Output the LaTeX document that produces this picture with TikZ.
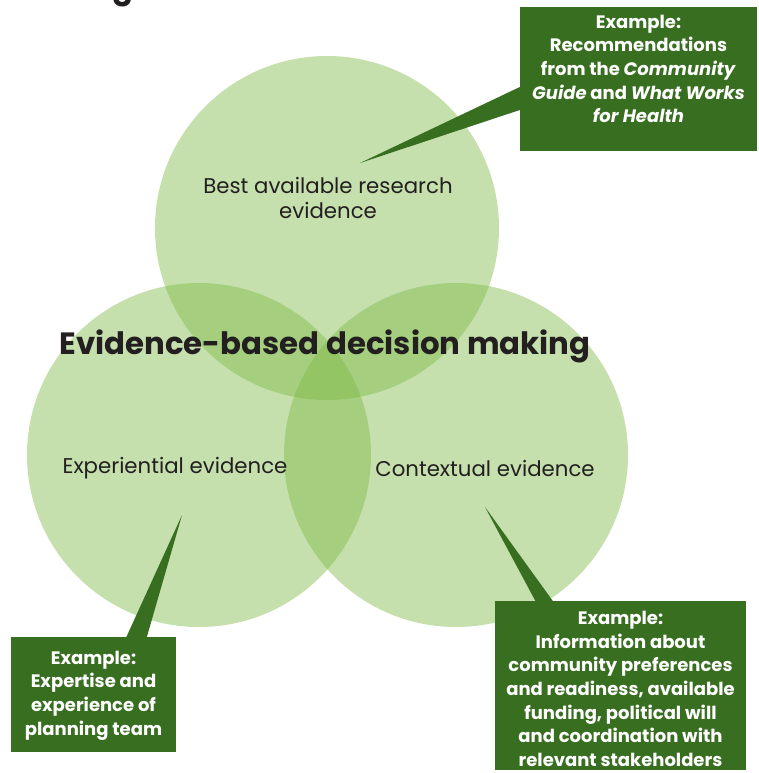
\documentclass[tikz,border=0pt]{standalone}
\usepackage{fontspec}
\setmainfont{Poppins}
\definecolor{circfill}{RGB}{126,186,71}
\definecolor{boxgreen}{RGB}{56,110,32}
\definecolor{txtdark}{RGB}{35,31,32}
\begin{document}
\begin{tikzpicture}[x=1pt,y=-1pt,
  evcircle/.style={circle,fill=circfill,fill opacity=0.45,minimum size=344pt,inner sep=0pt},
  exbox/.style={fill=boxgreen,text=white,font=\fontsize{18}{23.6}\selectfont\bfseries,align=center,inner sep=0pt},
  wedge/.style={fill=boxgreen},
  circlabel/.style={text=txtdark,font=\fontsize{21.3}{25}\selectfont,align=center},
  maintitle/.style={text=txtdark,font=\fontsize{30.8}{34}\selectfont\bfseries}]
\useasboundingbox (0,0) rectangle (758,773);
% circles
\node[evcircle] (research) at (327,228) {};
\node[evcircle] (experiential) at (199,455) {};
\node[evcircle] (contextual) at (456,455) {};
% boxes
\node[exbox,minimum width=237pt,minimum height=144pt] (boxtop) at (638.5,79) {};
\node[exbox,minimum width=165pt,minimum height=115pt] (boxleft) at (93.5,694.5) {};
\node[exbox,minimum width=251pt,minimum height=169pt] (boxright) at (620.5,685.5) {};
% callout wedges
\coordinate (tiptop) at (360,163);
\coordinate (tipleft) at (182,515);
\coordinate (tipright) at (485,507);
\fill[wedge] (tiptop) -- (boxtop.west |- 0,87) -- (boxtop.west |- 0,110) -- cycle;
\fill[wedge] (tipleft) -- (125,640) -- (146,640) -- cycle;
\fill[wedge] (tipright) -- (537,604) -- (555,604) -- cycle;
% box texts
\node[exbox,fill=none] (ttop) at (638.5,69) {Example:\\Recommendations\\from the \textit{Community}\\\textit{Guide} and \textit{What Works}\\\textit{for Health}};
\node[exbox,fill=none] (tleft) at (93.5,695.5) {Example:\\Expertise and\\experience of\\planning team};
\node[exbox,fill=none] (tright) at (620.5,689) {Example:\\Information about\\community preferences\\and readiness, available\\funding, political will\\and coordination with\\relevant stakeholders};
% circle labels
\node[circlabel] (lresearch) at (328,198) {Best available research\\evidence};
\node[circlabel] (lexp) at (175,468.5) {Experiential evidence};
\node[circlabel] (lctx) at (485,468) {Contextual evidence};
\node[maintitle] (title) at (325,346.5) {Evidence-based decision making};
\node[maintitle,anchor=base west,inner sep=0pt] (toptitle) at (10,-1) {making};
\end{tikzpicture}
\end{document}
